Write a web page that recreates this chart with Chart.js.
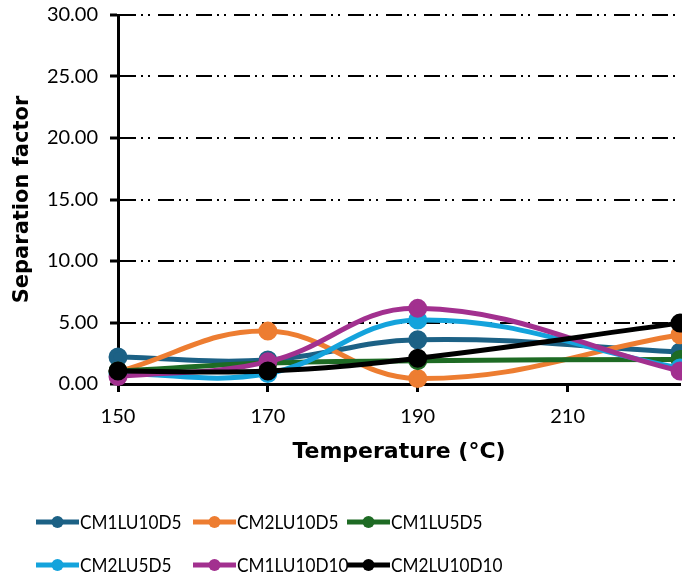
<!DOCTYPE html>
<html>
<head>
<meta charset="utf-8">
<script src="https://cdn.jsdelivr.net/npm/chart.js@4"></script>
<style>
html,body{margin:0;padding:0;background:#fff;}
#wrap{width:682px;height:578px;position:relative;}
</style>
</head>
<body>
<div id="wrap"><canvas id="c" width="682" height="578"></canvas></div>
<script>
// ---- data ----
const temperatures = [150, 170, 190, 225];
const seriesNames = ['CM1LU10D5', 'CM2LU10D5', 'CM1LU5D5', 'CM2LU5D5', 'CM1LU10D10', 'CM2LU10D10'];
const CM1LU10D5 = [2.2, 1.95, 3.6, 2.6];
const CM2LU10D5 = [1.0, 4.3, 0.45, 4.0];
const CM1LU5D5 = [1.05, 1.7, 1.9, 2.0];
const CM2LU5D5 = [0.85, 0.85, 5.2, 1.3];
const CM1LU10D10 = [0.6, 1.8, 6.15, 1.05];
const CM2LU10D10 = [1.05, 1.05, 2.1, 4.95];
const seriesValues = [CM1LU10D5, CM2LU10D5, CM1LU5D5, CM2LU5D5, CM1LU10D10, CM2LU10D10];
const seriesColors = ['#1c6185', '#ed7d31', '#1e6b24', '#14a3dc', '#a2308f', '#000000'];
const xTicks = [150, 170, 190, 210];
const yTicks = [0, 5, 10, 15, 20, 25, 30];

const FONT = 'Lato';
const TITLE_FONT = 'DejaVu Sans';

const datasets = seriesNames.map((name, i) => ({
  label: name,
  data: temperatures.map((t, j) => ({x: t, y: seriesValues[i][j]})),
  borderColor: seriesColors[i],
  backgroundColor: seriesColors[i],
  pointBackgroundColor: seriesColors[i],
  pointBorderColor: seriesColors[i],
  borderWidth: 5,
  pointRadius: 7,
  pointHoverRadius: 7,
  tension: 0.4,
  clip: false,
  order: seriesNames.length - i
}));

// grid legend drawn on canvas (line + marker, then label)
const gridLegend = {
  id: 'gridLegend',
  afterDraw(chart) {
    const ctx = chart.ctx;
    const cols = [36, 193, 347];
    const rows = [522, 565];
    chart.data.datasets.forEach((ds, i) => {
      const x = cols[i % 3];
      const y = rows[Math.floor(i / 3)];
      ctx.save();
      ctx.font = '20px ' + FONT;
      ctx.textBaseline = 'middle';
      ctx.textAlign = 'left';
      ctx.fillStyle = '#000';
      ctx.translate(x + 44, y + 1);
      ctx.scale(0.86, 1);
      ctx.fillText(ds.label, 0, 0);
      ctx.restore();
      ctx.save();
      ctx.strokeStyle = ds.borderColor;
      ctx.lineWidth = 5;
      ctx.beginPath();
      ctx.moveTo(x, y);
      ctx.lineTo(x + 43, y);
      ctx.stroke();
      ctx.fillStyle = ds.borderColor;
      ctx.beginPath();
      ctx.arc(x + 21.5, y, 6, 0, Math.PI * 2);
      ctx.fill();
      ctx.restore();
    });
  }
};

function build() {
  new Chart(document.getElementById('c'), {
    type: 'line',
    data: {datasets},
    plugins: [gridLegend],
    options: {
      responsive: false,
      animation: false,
      events: [],
      layout: {autoPadding: false, padding: {left: 0, right: 2, top: 15, bottom: 0}},
      plugins: {legend: {display: false}, tooltip: {enabled: false}},
      scales: {
        x: {
          type: 'linear',
          min: 150,
          max: 225,
          afterFit(s) { s.height = 194; s.paddingLeft = 0; s.paddingRight = 0; },
          afterBuildTicks(s) { s.ticks = xTicks.map(v => ({value: v})); },
          ticks: {
            includeBounds: false,
            stepSize: 20,
            color: '#000',
            font: {family: FONT, size: 20},
            padding: 13,
            maxRotation: 0
          },
          grid: {drawOnChartArea: false, drawTicks: true, tickLength: 8, tickWidth: 3, tickColor: '#000', color: '#000'},
          border: {display: true, color: '#000', width: 3},
          title: {
            display: true,
            text: 'Temperature (°C)',
            color: '#000',
            font: {family: TITLE_FONT, size: 22, weight: 'bold'},
            padding: {top: 0, bottom: 113}
          }
        },
        y: {
          min: 0,
          max: 30,
          afterFit(s) { s.width = 118; s.paddingTop = 0; s.paddingBottom = 0; },
          afterBuildTicks(s) { s.ticks = yTicks.map(v => ({value: v})); },
          ticks: {
            stepSize: 5,
            color: '#000',
            font: {family: FONT, size: 20},
            padding: 12,
            callback: v => Number(v).toFixed(2)
          },
          grid: {drawOnChartArea: true, color: '#000', lineWidth: 2, tickLength: 8, tickWidth: 3, tickColor: '#000'},
          border: {display: true, color: '#000', width: 3, dash: [16, 5, 2, 5, 2, 8]},
          title: {
            display: true,
            text: 'Separation factor',
            color: '#000',
            font: {family: TITLE_FONT, size: 21, weight: 'bold'},
            padding: {top: 10, bottom: 0}
          }
        }
      }
    }
  });
}

if (document.fonts && document.fonts.load) {
  Promise.all([
    document.fonts.load('20px ' + FONT),
    document.fonts.load('bold 21px "' + TITLE_FONT + '"')
  ]).then(build, build);
} else {
  build();
}
</script>
</body>
</html>
